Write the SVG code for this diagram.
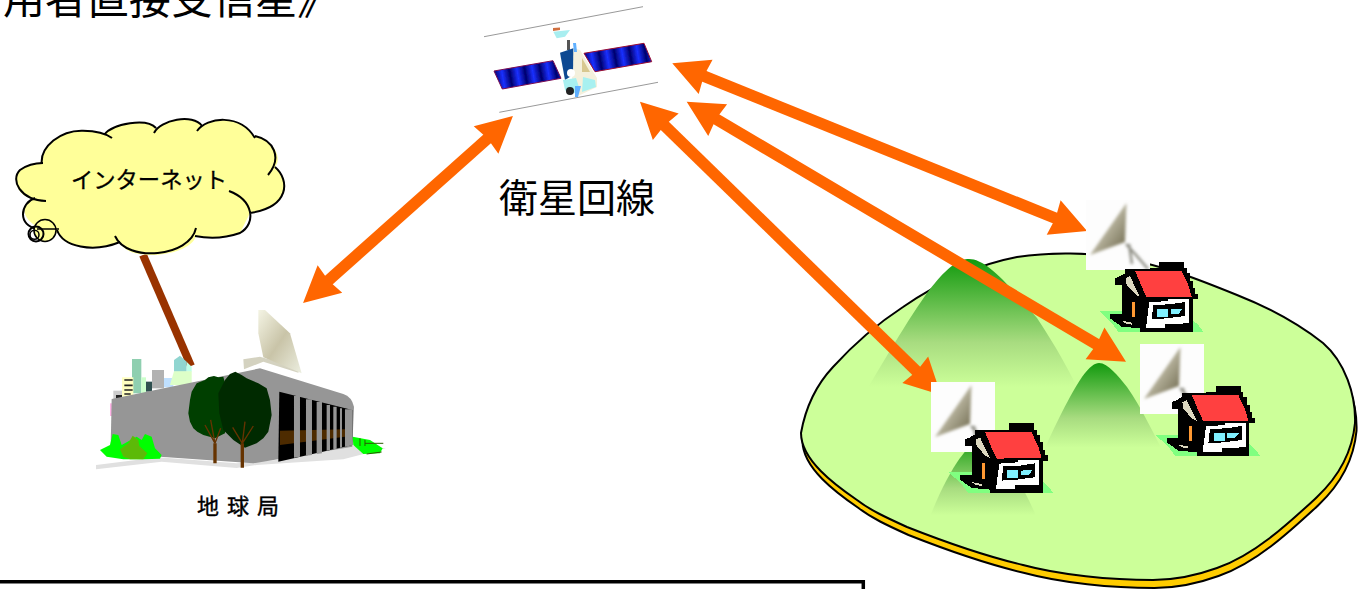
<svg xmlns="http://www.w3.org/2000/svg" width="1371" height="589" viewBox="0 0 1371 589">
<style>
.cjk{font-family:"Noto Sans CJK JP","Liberation Sans",sans-serif;fill:#000}
.arrow{fill:none;stroke:#ff6600;stroke-width:11.5;marker-start:url(#head);marker-end:url(#head)}
.cl{fill:none;stroke:#000;stroke-width:2}
.shape{fill:#ccff99;stroke:#000;stroke-width:2}
</style>
<defs>
<marker id="head" markerUnits="userSpaceOnUse" markerWidth="44" markerHeight="40" refX="20" refY="20" orient="auto-start-reverse" viewBox="0 0 44 40">
<path d="M40 20L4 1.5L6 20L4 38.5Z" fill="#ff6600"/>
</marker>
<linearGradient id="hill" x1="0" y1="0" x2="0" y2="1"><stop offset="0" stop-color="#129a0e"/><stop offset=".6" stop-color="#a8dc80"/><stop offset=".92" stop-color="#ccff99"/></linearGradient>
<linearGradient id="cone" x1="0" y1="0" x2="1" y2="1"><stop offset=".15" stop-color="#e6e6de"/><stop offset=".5" stop-color="#b4b09a"/><stop offset=".85" stop-color="#7f7a60"/></linearGradient>
<linearGradient id="bigdish" x1="0" y1="0" x2="1" y2="1"><stop offset="0" stop-color="#f4f4e4"/><stop offset=".5" stop-color="#c9c4a8"/><stop offset="1" stop-color="#eceee0"/></linearGradient>
<linearGradient id="cells" gradientUnits="userSpaceOnUse" x1="494" y1="71" x2="509" y2="68.4" spreadMethod="repeat"><stop offset="0" stop-color="#00006e"/><stop offset=".5" stop-color="#1a30ff"/><stop offset="1" stop-color="#00006e"/></linearGradient>
<filter id="b1" x="-30%" y="-30%" width="160%" height="160%"><feGaussianBlur stdDeviation="1.8"/></filter>
<filter id="b2" x="-20%" y="-20%" width="140%" height="140%"><feGaussianBlur stdDeviation=".7"/></filter>
<path id="outline" d="M801 433C806 405 818 383 833 367C853 345 880 322 903 307C935 285 975 265 1017 257C1050 252 1090 252 1125 259C1165 266 1200 280 1237 295C1270 308 1300 325 1323 343C1345 362 1356 395 1355 423C1352 455 1335 480 1317 497C1290 522 1255 555 1217 568C1195 576 1175 580 1153 580C1110 580 1060 575 1023 565C985 556 945 542 907 527C885 517 870 510 857 500C835 485 801 460 801 433Z"/>
<g id="dish">
<rect x="0" y="0" width="64" height="70" fill="#fdfdfd"/>
<g filter="url(#b1)">
<path d="M40 44L50 55L62 69M43 44L46 64" fill="none" stroke="#8e8e84" stroke-width="2.5"/>
<path d="M40.5 3L4 55L39 42Z" fill="url(#cone)"/>
</g>
</g>
<g id="house" transform="scale(.3333)" shape-rendering="crispEdges">
<path d="M87 363L120 363L160 363L160 400L368 390L385 405L400 425L145 425L130 405L105 380Z" fill="#80ff80"/>
<path d="M268 216L342 216L342 235L350 235L350 250L360 250L360 272L370 272L370 295L375 295L375 312L384 312L384 328L368 328L368 425L210 425L210 415L155 410L120 385L120 372L155 372L155 285L135 285L135 265L150 258L165 250L165 237L268 235Z" fill="#000"/>
<path d="M195 243L335 243L345 265L355 285L365 320L230 322L215 290L205 265Z" fill="#ff4040"/>
<path d="M167 265L180 258L195 290L210 320L198 315L170 285Z" fill="#dcd8c0"/>
<rect x="186" y="336" width="9" height="46" fill="#ff9933"/>
<path d="M238 337L295 333L295 326L358 326L358 400L285 402L285 413L228 413Z" fill="#fff"/>
<path d="M250 345L300 343L345 336L345 378L290 385L245 388Z" fill="#000"/>
<rect x="262" y="357" width="33" height="23" fill="#80f0ff"/>
<path d="M302 358L338 356L325 372L302 372Z" fill="#80f0ff"/>
<path d="M155 392L185 398L185 404L165 400Z" fill="#dcd8c0"/>
</g>
</defs>
<rect width="1371" height="589" fill="#fff"/>
<g id="title"><text class="cjk" x="3" y="14" font-size="42">用者直接受信星》</text></g>
<g id="island">
<use href="#outline" transform="translate(1.5 8)" fill="#ffcc00" stroke="#000" stroke-width="2"/>
<use href="#outline" class="shape"/>
<path id="hill1" d="M862 398C890 350 920 300 935 283C950 265 960 259 969 259C985 259 1005 280 1037 318C1055 345 1072 375 1082 398Z" fill="url(#hill)"/>
<path id="hill2" d="M1042 455C1055 425 1070 395 1082 377C1090 366 1095 363 1099 363C1108 363 1118 376 1127 387C1142 408 1155 437 1165 455Z" fill="url(#hill)"/>
<path id="hill3" d="M928 522C938 495 950 472 960 458C972 442 980 438 985 438C1000 440 1022 485 1039 522Z" fill="url(#hill)"/>
</g>
<g id="connectors">
<path class="arrow" d="M498 129.3L318 289.7"/>
<path class="arrow" d="M690.8 70.8L1068.5 223.5"/>
<path class="arrow" d="M703.9 111.9L1108.8 351.5"/>
<path class="arrow" d="M654.3 115.7L926.7 381"/>
<path d="M143 255L191 366" fill="none" stroke="#993300" stroke-width="8"/>
</g>
<g id="satellite">
<path d="M484 36.7L643 6.7M499.3 112.3L658 82.3" stroke="#999" stroke-width="1" fill="none"/>
<g filter="url(#b2)">
<path d="M494 71L553 60.7L561 78.3L502.3 89Z" fill="url(#cells)" stroke="#7a0a50" stroke-width="1"/>
<path d="M584 53.3L644 43.3L651.7 61.7L595 71.7Z" fill="url(#cells)" stroke="#9a0a30" stroke-width="1"/>
<path d="M553.3 31.7L570 30L565 36.7L556.7 38.3Z" fill="#a8eef0"/>
<path d="M553 28L560 27.5L560 30L553 31Z" fill="#d07040"/>
<path d="M567 40H570V50H567Z" fill="#555"/>
<path d="M573 48L580 50L597 78L597 87L578 96L572 80Z" fill="#f4f0dc"/>
<path d="M582 58L590 72L582 72Z" fill="#d8c890"/>
<path d="M560 52.7L573.3 48.3L573 75L565 80Z" fill="#0a4a92"/>
<path d="M563 80L576 78L580 90L570 95L565 90Z" fill="#a8f0f0"/>
<path d="M583 77L595 80L596 87L582 92Z" fill="#a8f0f0"/>
<circle cx="571" cy="73" r="4" fill="#fff"/>
<circle cx="570" cy="91" r="4" fill="#222"/>
<path d="M573 43L576 43L577 52L574 52ZM575 86L581 86L578 97L575 97Z" fill="#60b0ff"/>
</g>
</g>
<g id="cloud">
<path d="M41.7 163C40.7 147 60 130 83 130.7C100 131 108 135 112 138L104 135C113 123 147 118 156 128L154 133C160 120 193 113 202 126L197 131C207 117 240 113 255 138L255 136C273 140 283 157 275 167C290 180 290 207 250 213L240 233C220 240 205 238 196 236C190 257 127 263 120 242C93 253 63 247 58 233C20 227 17 203 35 198C20 200 10 180 20 170C27 165 43 163 41.7 163Z" fill="#ffff99"/>
<path class="cl" d="M41.7 163C40.7 147 60 130 83 130.7C100 131 108 135 112 138M104 135C113 123 147 118 156 128M154 133C160 120 193 113 202 126M197 131C207 117 240 113 255 138M255 136C273 140 283 157 268 175M275 167C290 180 290 207 250 213M229 191C253 200 257 223 240 233C220 240 205 238 195 236M196 228C190 257 127 263 115 236M120 242C93 253 63 247 57 230M35 198C20 203 17 226 38 229M46 201C20 200 10 180 20 170C27 165 35 163 43 163"/>
<circle cx="45" cy="230.5" r="11" fill="#ffff99" stroke="#000" stroke-width="1.5"/>
<circle cx="36" cy="234" r="7.5" fill="none" stroke="#000" stroke-width="2"/>
<circle cx="34.5" cy="234.7" r="4.5" fill="none" stroke="#000" stroke-width="1.5"/>
<path d="M37 229L59 229" stroke="#000" stroke-width="1.5"/>
<text class="cjk" x="149" y="188" font-size="22.3" text-anchor="middle" stroke="#000" stroke-width=".3">インターネット</text>
</g>
<g id="station" transform="translate(90 300) scale(.3333)">
<path d="M126 177H154V280H126Z" fill="#8fcfb0"/><path d="M154 232H168V280H154Z" fill="#ccffcc"/>
<path d="M96 232H130V290H96Z" fill="#ffffbf"/>
<path d="M103 240H128M103 256H128M103 270H128M103 282H122" stroke="#222" stroke-width="5" fill="none"/>
<path d="M186 210H222V265H186Z" fill="#b2b2b2"/><path d="M168 245H186V275H168Z" fill="#2f5050"/>
<path d="M222 234H250V262H222Z" fill="#bfe0ff"/>
<path d="M252 180L270 167L290 185V215H252Z" fill="#90d5d0"/><path d="M290 185L305 200V215H290Z" fill="#bfffe8"/>
<path d="M252 214H305V255H240Z" fill="#ddffc8"/>
<path d="M70 272H96V297H70Z" fill="#ccc"/><path d="M78 285H96V297H78Z" fill="#222"/>
<path d="M60 310H66V348H60Z" fill="#ffb2e6"/>
<path d="M18 495L205 472L440 490L560 480L787 436L888 445L760 478L500 495L440 504L215 485L18 508Z" fill="#e0e0e0"/>
<path d="M65 297L510 205L760 282Q785 290 792 320L787 440L490 490L210 470L62 440Z" fill="#969696"/>
<path d="M568 275L787 330V435L565 485Z" fill="#000"/>
<path d="M570 392L765 388V410L570 435Z" fill="#4d2b00"/>
<path d="M612 288H630V470L612 473ZM648 298H666V465L648 467ZM680 306H696V460L680 462ZM710 315H720V450L710 452ZM730 320H740V446L730 448ZM750 325H756V442L750 443ZM765 328H787V436L765 440Z" fill="#969696"/>
<path d="M30 450L60 435L68 402L85 405L95 435L140 410L155 420L165 402L185 410L195 445L215 465L210 476L160 478L100 478L50 470Z" fill="#00ff00"/>
<path d="M90 448L115 430L128 407L145 420L148 438L172 460L160 478L120 478L100 470Z" fill="#5cba08"/>
<path d="M788 410L840 420L878 445L870 460L820 462L790 435Z" fill="#00ff00"/>
<path d="M825 430H880M810 415V438M825 420V438M830 462L875 456" stroke="#2a5a00" stroke-width="3" fill="none"/>
<path d="M372 228L385 232L400 230L408 260L405 400L375 415L340 405L322 395L310 385L300 365L295 340L300 300L305 275L320 250L345 240L355 232Z" fill="#003f00"/>
<path d="M436 215L455 225L470 235L505 250L530 265L540 300L545 345L535 395L520 415L500 430L465 443L430 420L400 390L388 340L385 280L405 240L420 222Z" fill="#002a00"/>
<path d="M375 430L345 375M375 430L362 360M375 430L392 385M457 430L428 382M457 430L465 365M457 430L490 378" stroke="#663300" stroke-width="4" fill="none"/>
<path d="M375 490V430M457 503V430" stroke="#663300" stroke-width="10" fill="none"/>
<g filter="url(#b1)">
<path d="M460 178L510 170L630 205L625 218L520 185L462 208Z" fill="#d4d2c0"/>
<path d="M505 30L525 30L600 100L635 220L520 172L505 100Z" fill="url(#bigdish)"/>
</g>
</g>
<g id="label-station"><text class="cjk" x="197" y="514" font-size="22" letter-spacing="8" stroke="#000" stroke-width=".4">地球局</text></g>
<g id="label-link"><text class="cjk" x="499" y="212" font-size="39">衛星回線</text></g>
<g id="site1"><use href="#dish" x="931" y="382"/><use href="#house" transform="translate(920 351.3)"/></g>
<g id="site2"><use href="#dish" x="1086" y="200"/><use href="#house" transform="translate(1070 190)"/></g>
<g id="site3"><use href="#dish" x="1140" y="344"/><use href="#house" transform="translate(1126.7 314)"/></g>
<g id="frame"><path d="M0 581.7H863.3V589" fill="none" stroke="#000" stroke-width="3.5"/></g>
</svg>
